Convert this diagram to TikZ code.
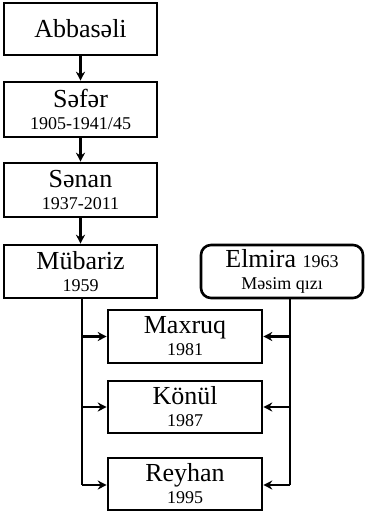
\documentclass[tikz,border=0pt]{standalone}
\usepackage{fontspec}
\setmainfont{Liberation Serif}
\usetikzlibrary{arrows.meta}
\tikzset{
  pbox/.style={draw, line width=2.6pt, rectangle, inner sep=0pt, align=center, minimum width=153pt, font=\fontsize{26}{22}\selectfont},
  conn/.style={line width=2.2pt, -{Stealth[length=9pt,width=9pt]}},
  plain/.style={line width=2.2pt},
}
\newcommand{\yr}[1]{{\fontsize{18}{22}\selectfont #1}}
\newcommand{\pname}[2]{#1\\\yr{#2}}
\begin{document}
\begin{tikzpicture}[x=1pt,y=-1pt]
\useasboundingbox (0,0) rectangle (365,514);
\node[pbox, minimum height=52pt] (abb) at (80.5,29) {Abbasəli};
\node[pbox, minimum height=55pt] (sef) at (80.5,109.5) {\pname{Səfər}{1905-1941/45}};
\node[pbox, minimum height=54pt] (sen) at (80.5,190) {\pname{Sənan}{1937-2011}};
\node[pbox, minimum height=53pt] (mub) at (80.5,271.5) {\pname{Mübariz}{1959}};
\node[pbox, minimum height=53pt, minimum width=162pt, rounded corners=10pt] (elm) at (282,271.5) {Elmira \yr{1963}\\\yr{Məsim qızı}};
\node[pbox, minimum height=53pt, minimum width=154pt] (max) at (185,336.5) {\pname{Maxruq}{1981}};
\node[pbox, minimum height=52pt, minimum width=154pt] (kon) at (185,407) {\pname{Könül}{1987}};
\node[pbox, minimum height=52pt, minimum width=154pt] (rey) at (185,484) {\pname{Reyhan}{1995}};
\draw[conn] (abb) -- (sef);
\draw[conn] (sef) -- (sen);
\draw[conn] (sen) -- (mub);
\coordinate (lb) at (82,485);
\coordinate (rb) at (290,485);
\draw[plain] (mub.south -| lb) -- (lb);
\draw[plain] (elm.south -| rb) -- (rb);
\draw[conn] (max.west -| lb) -- (max.west);
\draw[conn] (kon.west -| lb) -- (kon.west);
\draw[conn] (lb) -- (rey.west |- lb);
\draw[conn] (max.east -| rb) -- (max.east);
\draw[conn] (kon.east -| rb) -- (kon.east);
\draw[conn] (rb) -- (rey.east |- rb);
\end{tikzpicture}
\end{document}
